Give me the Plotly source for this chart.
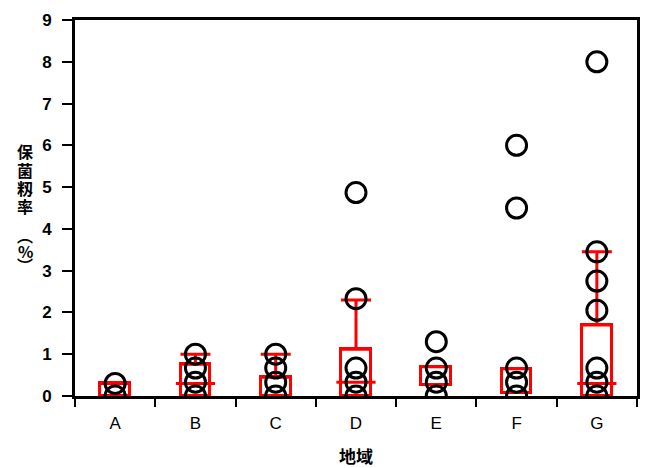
import plotly.graph_objects as go

categories = ["A", "B", "C", "D", "E", "F", "G"]
box_low = [0, 0, 0, 0, 0.27, 0.07, 0]
box_high = [0.3, 0.76, 0.45, 1.12, 0.7, 0.65, 1.7]
whisker_top = [0.3, 1.0, 1.0, 2.3, 0.7, 0.65, 3.45]
median_vals = [None, 0.3, None, 0.33, None, None, 0.3]
points = {
    "A": [0, 0.3],
    "B": [0, 0.33, 0.67, 1.0],
    "C": [0, 0.33, 0.67, 1.0],
    "D": [0, 0.33, 0.67, 2.33, 4.87],
    "E": [0, 0.33, 0.67, 1.3],
    "F": [0, 0.33, 0.67, 4.5, 6.0],
    "G": [0, 0.33, 0.67, 2.05, 2.75, 3.45, 8.0],
}
y_ticks = list(range(0, 10))
y_title_chars = ["保", "菌", "籾", "率", "︵", "%", "︶"]
x_title = "地域"

RED = "#ff0000"
FONT = "Liberation Sans, Arial, sans-serif"
CJK = "Noto Sans CJK JP, sans-serif"

# page body has an 8px margin: figure is 643x460 drawn at (8, 8)
W, H = 643, 460
ML, MR, MT, MB = 67, 14, 12, 72
PLOT_H = H - MT - MB
PLOT_W = W - ML - MR
OFF = 8

fig = go.Figure()

fig.add_trace(go.Bar(
    x=categories,
    y=[h - l for h, l in zip(box_high, box_low)],
    base=box_low,
    width=0.37,
    marker=dict(color="white", line=dict(color=RED, width=3)),
    showlegend=False,
))

fig.add_trace(go.Scatter(
    x=categories,
    y=box_high,
    mode="markers",
    marker=dict(size=1, color="rgba(0,0,0,0)"),
    error_y=dict(
        type="data",
        symmetric=False,
        array=[w - h for w, h in zip(whisker_top, box_high)],
        arrayminus=[0] * len(categories),
        color=RED,
        thickness=3,
        width=15,
    ),
    showlegend=False,
))

fig.add_trace(go.Scatter(
    x=categories,
    y=median_vals,
    mode="markers",
    marker=dict(symbol="line-ew", size=28, line=dict(color=RED, width=3)),
    showlegend=False,
))

px_x, px_y = [], []
for c in categories:
    for v in points[c]:
        px_x.append(c)
        px_y.append(v)

fig.add_trace(go.Scatter(
    x=px_x,
    y=px_y,
    mode="markers",
    marker=dict(symbol="circle-open", size=20, color="black", line=dict(color="black", width=3)),
    showlegend=False,
))

fig.update_layout(
    width=W,
    height=H,
    margin=dict(l=ML, r=MR, t=MT, b=MB, pad=0),
    paper_bgcolor="white",
    plot_bgcolor="white",
    bargap=0,
    font=dict(family=FONT, color="black"),
)

fig.update_xaxes(
    type="category",
    categoryorder="array",
    categoryarray=categories,
    range=[-0.5, 6.5],
    automargin=False,
    showline=True,
    linecolor="black",
    linewidth=3,
    mirror=True,
    showgrid=False,
    zeroline=False,
    ticks="outside",
    tickson="boundaries",
    ticklen=8,
    tickwidth=1.5,
    tickcolor="black",
    ticklabelstandoff=10,
    tickfont=dict(family=FONT, size=17, color="black"),
)

fig.update_yaxes(
    range=[0, 9],
    tickvals=y_ticks,
    ticktext=[str(v) for v in y_ticks],
    automargin=False,
    showline=True,
    linecolor="black",
    linewidth=3,
    mirror=True,
    showgrid=False,
    zeroline=False,
    ticks="outside",
    ticklen=10,
    tickwidth=2,
    tickcolor="black",
    ticklabelstandoff=7,
    tickfont=dict(family=FONT, size=17, color="black", weight="bold"),
)

# vertical y title, one character per line (page pixel centres)
plot_bottom_px = OFF + MT + PLOT_H
char_y_px = [151, 170, 188, 206, 235, 251, 265]
for ch, ypx in zip(y_title_chars, char_y_px):
    fig.add_annotation(
        text=ch,
        xref="paper", yref="paper",
        x=(25 - OFF - ML) / PLOT_W,
        y=(plot_bottom_px - ypx) / PLOT_H,
        xanchor="center", yanchor="middle",
        showarrow=False,
        font=dict(family=CJK, size=16, color="black", weight="bold"),
    )

fig.add_annotation(
    text=x_title,
    xref="paper", yref="paper",
    x=0.5, y=(plot_bottom_px - 455) / PLOT_H,
    xanchor="center", yanchor="middle",
    showarrow=False,
    font=dict(family=CJK, size=17, color="black", weight="bold"),
)

fig.write_html("out.html")
